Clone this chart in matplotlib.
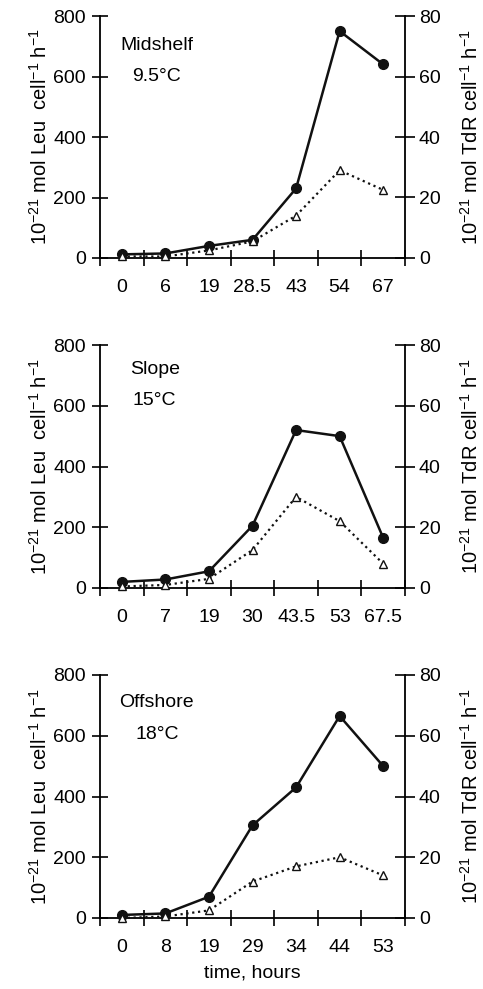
import numpy as np
import matplotlib.pyplot as plt
from matplotlib.ticker import FixedLocator

plt.rcParams['font.family'] = ['Liberation Sans', 'DejaVu Sans']
plt.rcParams['font.size'] = 14
plt.rcParams['mathtext.fontset'] = 'custom'
plt.rcParams['mathtext.rm'] = 'Liberation Sans'
plt.rcParams['mathtext.default'] = 'regular'

# station names and temperatures
stations = ["Midshelf", "Slope", "Offshore"]
temps = ["9.5°C", "15°C", "18°C"]

# sampling times (hours) used as categorical labels
times_mid = ["0", "6", "19", "28.5", "43", "54", "67"]
times_slope = ["0", "7", "19", "30", "43.5", "53", "67.5"]
times_off = ["0", "8", "19", "29", "34", "44", "53"]

# leucine incorporation (10^-21 mol Leu cell^-1 h^-1)
leu_mid = [12, 15, 40, 60, 230, 750, 640]
leu_slope = [20, 28, 55, 205, 520, 500, 165]
leu_off = [10, 15, 70, 305, 430, 665, 500]

# thymidine incorporation (10^-21 mol TdR cell^-1 h^-1)
tdr_mid = [0.5, 0.5, 2.5, 5.5, 14, 29, 22.5]
tdr_slope = [0.5, 1, 3, 12.5, 30, 22, 8]
tdr_off = [0, 0.5, 2.5, 12, 17, 20, 14]

panels = [
    (times_mid, leu_mid, tdr_mid),
    (times_slope, leu_slope, tdr_slope),
    (times_off, leu_off, tdr_off),
]
# text positions per panel (axes fraction)
name_pos = [(0.066, 0.88), (0.098, 0.90), (0.062, 0.885)]
temp_pos = [(0.105, 0.75), (0.105, 0.77), (0.115, 0.757)]

W, H = 483, 989
fig = plt.figure(figsize=(W / 100, H / 100), dpi=100)

tops = [16, 345, 675]
bottoms = [258, 588, 918]
left, right = 100, 405

for i, (labels, leu, tdr) in enumerate(panels):
    ax = fig.add_axes([left / W, 1 - bottoms[i] / H,
                       (right - left) / W, (bottoms[i] - tops[i]) / H])
    x = np.arange(len(labels))
    ax.plot(x, leu, '-', color='#111111', lw=1.8, marker='o', ms=7,
            mfc='#111111', mec='#111111', zorder=3, clip_on=False)
    ax.set_xlim(-0.5, len(labels) - 0.5)
    ax.set_ylim(0, 800)
    ax.set_yticks([0, 200, 400, 600, 800])
    ax.set_xticks(x)
    ax.set_xticklabels(labels)
    ax.xaxis.set_minor_locator(FixedLocator(np.arange(-0.5, len(labels), 1.0)))
    ax.tick_params(axis='x', which='major', length=0, pad=15)
    ax.tick_params(axis='x', which='minor', direction='inout', length=12, width=1.2)
    ax.tick_params(axis='y', direction='inout', length=12, width=1.2, pad=4)
    ax.spines['top'].set_visible(False)
    ax.spines['right'].set_visible(False)
    for s in ['left', 'bottom']:
        ax.spines[s].set_linewidth(1.3)
    ax.set_ylabel(r'10$^{-21}$ mol Leu  cell$^{-1}$ h$^{-1}$', labelpad=2,
                  fontsize=14.5)

    ax2 = ax.twinx()
    ax2.plot(x, tdr, ':', color='#111111', lw=1.6, marker='^', ms=6,
             mfc='white', mec='#111111', mew=1.0, zorder=3, clip_on=False)
    ax2.set_ylim(0, 80)
    ax2.set_yticks([0, 20, 40, 60, 80])
    ax2.tick_params(axis='y', direction='inout', length=14, width=1.2, pad=3)
    ax2.spines['top'].set_visible(False)
    ax2.spines['left'].set_visible(False)
    ax2.spines['bottom'].set_visible(False)
    ax2.spines['right'].set_linewidth(1.3)
    ax2.set_ylabel(r'10$^{-21}$ mol TdR cell$^{-1}$ h$^{-1}$', labelpad=14,
                   fontsize=14.5)

    ax.text(name_pos[i][0], name_pos[i][1], stations[i], transform=ax.transAxes,
            ha='left', va='center')
    ax.text(temp_pos[i][0], temp_pos[i][1], temps[i], transform=ax.transAxes,
            ha='left', va='center')

    if i == 2:
        ax.set_xlabel('time, hours', labelpad=6)

fig.savefig('out.png', dpi=100)
